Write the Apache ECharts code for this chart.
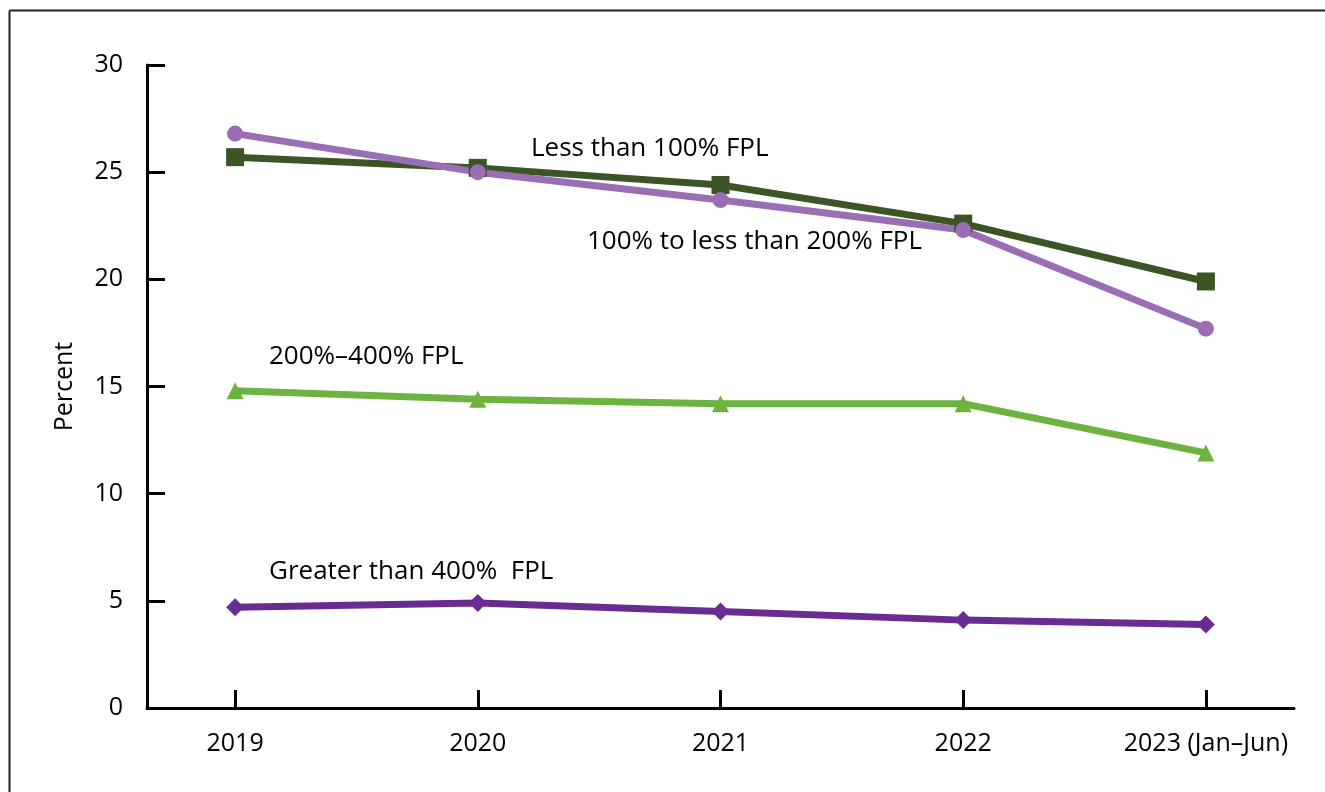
<!DOCTYPE html>
<html><head><meta charset="utf-8">
<script src="https://cdn.jsdelivr.net/npm/echarts@6/dist/echarts.min.js"></script>
<style>html,body{margin:0;padding:0;background:#fff}#c{width:1325px;height:792px}</style>
</head><body><div id="c"></div>
<script>
var categories = ['2019', '2020', '2021', '2022', '2023 (Jan\u2013Jun)'];
var lessThan100 = [25.7, 25.2, 24.4, 22.6, 19.9];
var from100to200 = [26.8, 25.0, 23.7, 22.3, 17.7];
var from200to400 = [14.8, 14.4, 14.2, 14.2, 11.9];
var greaterThan400 = [4.7, 4.9, 4.5, 4.1, 3.9];
var yTicks = [0, 5, 10, 15, 20, 25, 30];
var seriesNames = ['Less than 100% FPL', '100% to less than 200% FPL', '200%\u2013400% FPL', 'Greater than 400%  FPL'];

function pts(arr){ return arr.map(function(v,i){ return [i, v]; }); }
var FONT = 'Open Sans';
var chart = echarts.init(document.getElementById('c'), null, {renderer:'canvas'});
function mk(name, data, color, symbol, size){
  return {name:name, type:'line', data:pts(data), symbol:symbol, symbolSize:size,
    lineStyle:{color:color, width:7}, itemStyle:{color:color}, z: 3, animation:false};
}
chart.setOption({
  animation:false,
  grid:{left:147, right:31, top:65, bottom:84},
  xAxis:{type:'value', min:-0.363, max:4.363,
    axisLine:{show:true, onZero:false, lineStyle:{color:'#000', width:3}},
    axisTick:{show:true, inside:true, length:18, lineStyle:{color:'#000', width:3}, customValues:[0,1,2,3,4]},
    axisLabel:{customValues:[0,1,2,3,4], formatter:function(v){return categories[Math.round(v)];}, color:'#000', fontFamily:FONT, fontSize:25, margin:23},
    splitLine:{show:false}},
  yAxis:{type:'value', min:0, max:30, interval:5,
    name:'Percent', nameLocation:'middle', nameGap:70, nameTextStyle:{color:'#000', fontFamily:FONT, fontSize:25},
    axisLine:{show:true, onZero:false, lineStyle:{color:'#000', width:3}},
    axisTick:{show:true, inside:true, length:18, lineStyle:{color:'#000', width:3}},
    axisLabel:{color:'#000', fontFamily:FONT, fontSize:25, margin:24, formatter:function(v){return yTicks.indexOf(v)>=0?String(v):'';}},
    splitLine:{show:false}},
  series:[
    mk(seriesNames[0], lessThan100, '#3b5526', 'rect', 18),
    mk(seriesNames[1], from100to200, '#9a6db5', 'circle', 16),
    mk(seriesNames[2], from200to400, '#6db33f', 'triangle', 17),
    mk(seriesNames[3], greaterThan400, '#6a2c91', 'diamond', 18)
  ],
  graphic:[
    {type:'line', shape:{x1:9.5, y1:10.5, x2:1325, y2:10.5}, style:{stroke:'#222', lineWidth:2}},
    {type:'line', shape:{x1:9.5, y1:10.5, x2:9.5, y2:792}, style:{stroke:'#222', lineWidth:2}},
    {type:'text', left:531, top:136, style:{text:seriesNames[0], fill:'#000', font:'26px "Open Sans"'}},
    {type:'text', left:587, top:229, style:{text:seriesNames[1], fill:'#000', font:'26px "Open Sans"'}},
    {type:'text', left:269, top:344, style:{text:seriesNames[2], fill:'#000', font:'26px "Open Sans"'}},
    {type:'text', left:269, top:559, style:{text:seriesNames[3], fill:'#000', font:'26px "Open Sans"'}}
  ]
});
</script></body></html>
